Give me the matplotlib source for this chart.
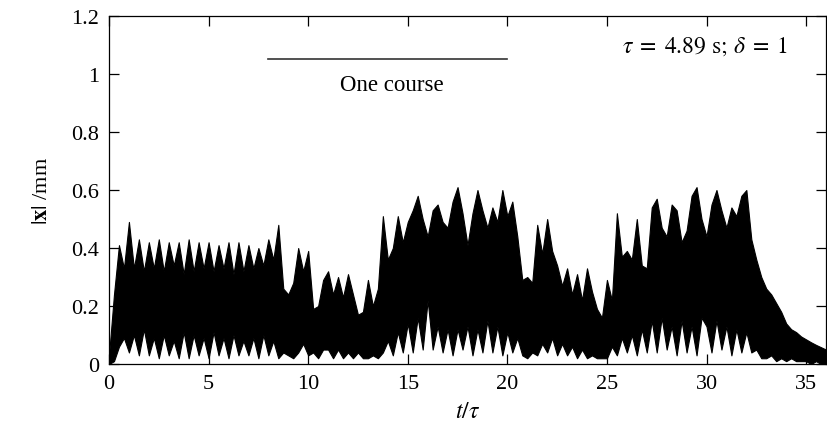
import matplotlib
matplotlib.use("Agg")
import matplotlib.pyplot as plt
import numpy as np

# --- data (envelope of |x| every 0.25 t/tau) ---
t_step = 0.25
upper = [
    0.03, 0.24, 0.41, 0.33,   # 0
    0.49, 0.33, 0.43, 0.32,   # 1
    0.42, 0.33, 0.43, 0.32,   # 2
    0.42, 0.34, 0.42, 0.31,   # 3
    0.43, 0.32, 0.42, 0.33,   # 4
    0.42, 0.32, 0.41, 0.33,   # 5
    0.42, 0.31, 0.42, 0.32,   # 6
    0.41, 0.33, 0.40, 0.34,   # 7
    0.43, 0.36, 0.48, 0.26,   # 8
    0.24, 0.28, 0.40, 0.32,   # 9
    0.39, 0.19, 0.20, 0.29,   # 10
    0.32, 0.24, 0.30, 0.23,   # 11
    0.31, 0.24, 0.17, 0.18,   # 12
    0.29, 0.20, 0.26, 0.51,   # 13
    0.36, 0.40, 0.51, 0.42,   # 14
    0.49, 0.53, 0.58, 0.50,   # 15
    0.44, 0.53, 0.55, 0.49,   # 16
    0.47, 0.56, 0.61, 0.52,   # 17
    0.41, 0.52, 0.60, 0.53,   # 18
    0.47, 0.54, 0.49, 0.60,   # 19
    0.51, 0.56, 0.44, 0.29,   # 20
    0.30, 0.28, 0.48, 0.38,   # 21
    0.50, 0.39, 0.34, 0.27,   # 22
    0.33, 0.24, 0.31, 0.22,   # 23
    0.33, 0.25, 0.19, 0.16,   # 24
    0.29, 0.22, 0.52, 0.37,   # 25
    0.39, 0.36, 0.50, 0.34,   # 26
    0.33, 0.54, 0.57, 0.47,   # 27
    0.44, 0.55, 0.53, 0.42,   # 28
    0.46, 0.58, 0.61, 0.50,   # 29
    0.44, 0.55, 0.60, 0.53,   # 30
    0.47, 0.54, 0.51, 0.58,   # 31
    0.60, 0.43, 0.36, 0.30,   # 32
    0.26, 0.24, 0.21, 0.18,   # 33
    0.14, 0.12, 0.11, 0.095,  # 34
    0.085, 0.075, 0.066, 0.058,  # 35
    0.05,
]
lower = [
    0.00, 0.01, 0.06, 0.09,   # 0
    0.04, 0.10, 0.03, 0.12,   # 1
    0.03, 0.09, 0.02, 0.10,   # 2
    0.03, 0.08, 0.02, 0.11,   # 3
    0.02, 0.10, 0.03, 0.09,   # 4
    0.02, 0.11, 0.03, 0.09,   # 5
    0.02, 0.10, 0.03, 0.08,   # 6
    0.03, 0.09, 0.02, 0.10,   # 7
    0.03, 0.08, 0.02, 0.04,   # 8
    0.03, 0.02, 0.04, 0.07,   # 9
    0.03, 0.04, 0.02, 0.05,   # 10
    0.05, 0.02, 0.05, 0.02,   # 11
    0.04, 0.02, 0.04, 0.02,   # 12
    0.02, 0.03, 0.02, 0.04,   # 13
    0.08, 0.03, 0.11, 0.04,   # 14
    0.14, 0.04, 0.16, 0.05,   # 15
    0.22, 0.05, 0.13, 0.04,   # 16
    0.12, 0.03, 0.12, 0.05,   # 17
    0.13, 0.03, 0.12, 0.04,   # 18
    0.15, 0.04, 0.13, 0.03,   # 19
    0.11, 0.04, 0.09, 0.03,   # 20
    0.02, 0.04, 0.03, 0.07,   # 21
    0.04, 0.09, 0.03, 0.07,   # 22
    0.03, 0.06, 0.02, 0.05,   # 23
    0.02, 0.03, 0.02, 0.02,   # 24
    0.02, 0.06, 0.03, 0.09,   # 25
    0.04, 0.10, 0.03, 0.12,   # 26
    0.04, 0.15, 0.04, 0.16,   # 27
    0.05, 0.13, 0.03, 0.15,   # 28
    0.04, 0.13, 0.03, 0.16,   # 29
    0.13, 0.04, 0.15, 0.05,   # 30
    0.13, 0.03, 0.12, 0.04,   # 31
    0.11, 0.04, 0.05, 0.02,   # 32
    0.02, 0.03, 0.01, 0.02,   # 33
    0.01, 0.02, 0.01, 0.01,   # 34
    0.01, 0.00, 0.01, 0.00,   # 35
    0.00,
]
t = np.arange(len(upper)) * t_step

course_start, course_end, course_y = 8, 20, 1.05
yticks = [0, 0.2, 0.4, 0.6, 0.8, 1.0, 1.2]
ytick_labels = ["0", "0.2", "0.4", "0.6", "0.8", "1", "1.2"]
xticks = [0, 5, 10, 15, 20, 25, 30, 35]

# --- plotting ---
plt.rcParams["font.family"] = ["Liberation Serif", "DejaVu Serif"]
plt.rcParams["mathtext.fontset"] = "stix"

fig = plt.figure(figsize=(8.27, 4.31), dpi=100)
ax = fig.add_axes([0.1318, 0.153, 0.867, 0.8076])

ax.fill_between(t, lower, upper, color="black", linewidth=0.8)

ax.plot([course_start, course_end], [course_y, course_y], color="#333333", lw=1.2)
ax.text(14.2, 0.965, "One course", ha="center", va="center", fontsize=16.5)
ax.text(34.1, 1.098, r"$\tau\;=\;4.89\ \mathrm{s};\,\delta\;=\;1$", ha="right", va="center",
        fontsize=17)

ax.set_xlim(0, 36)
ax.set_ylim(0, 1.2)
ax.set_xticks(xticks)
ax.set_yticks(yticks)
ax.set_yticklabels(ytick_labels)
ax.tick_params(direction="in", top=True, right=True, length=7, width=0.9,
               labelsize=16, pad=7)
for s in ax.spines.values():
    s.set_linewidth(0.9)

ax.set_xlabel(r"$t/\tau$", fontsize=17, labelpad=6)
ax.set_ylabel(r"$|\mathbf{x}|$ /mm", fontsize=16, labelpad=14)

fig.savefig("out.png", dpi=100)
